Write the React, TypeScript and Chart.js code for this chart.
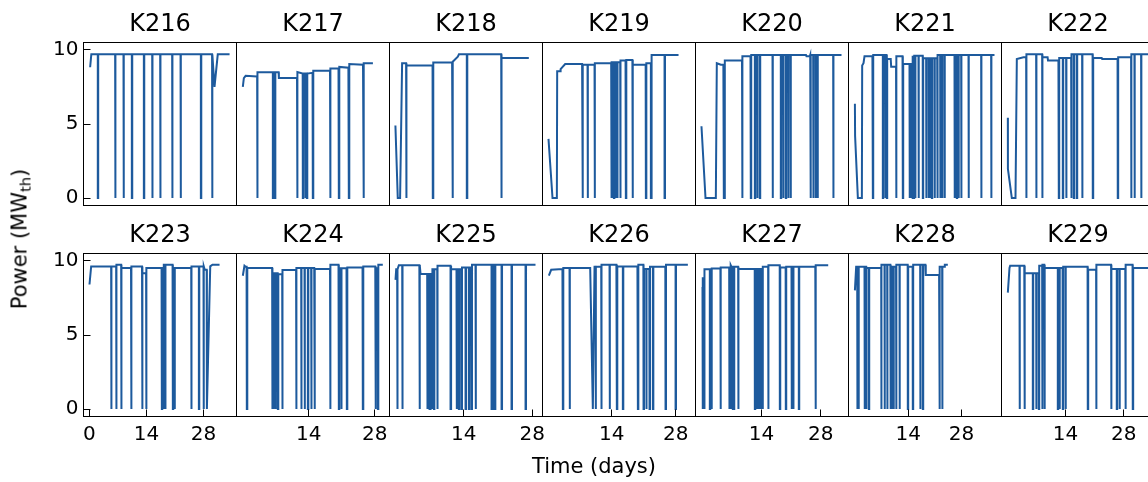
import React, { useEffect, useRef } from 'react';
import { Chart, registerables } from 'chart.js';

Chart.register(...registerables);

const FONT = "'DejaVu Sans', sans-serif";
const LINE_COLOR = '#1d5a9d';

const PANEL_NAMES = ['K216', 'K217', 'K218', 'K219', 'K220', 'K221', 'K222', 'K223', 'K224', 'K225', 'K226', 'K227', 'K228', 'K229'];
const Y_TICKS = [0, 5, 10];
const X_TICKS_FIRST = [0, 14, 28];
const X_TICKS_OTHER = [14, 28];
const Y_MIN = -0.5;
const Y_MAX = 10.5;
const X_MIN = [-1.47, -1.34, -1.21, -1.16, -1.58, -1.68, -1.37];
const X_MAX = [36.1, 31.12, 30.1, 32.3, 34.54, 38.48, 35.37];
const X_LABEL = 'Time (days)';
const Y_LABEL = 'Power (MW';
const Y_LABEL_SUB = 'th';

// Power level vertices [day, MW] and outage times (drops to 0 MW) per unit
const K216_LEVEL = [[0.16, 8.83], [0.45, 9.7], [30.2, 9.7], [30.7, 7.5], [31.5, 9.7], [34.4, 9.7]];
const K216_DROPS = [2.04, 6.3, 8.35, 10.4, 13.35, 15.4, 17.36, 20.3, 22.36, 27.35, 30.1];

const K217_LEVEL = [[0, 7.5], [0.22, 8.1], [0.6, 8.25], [3.0, 8.2], [3.1, 8.5], [7.6, 8.5], [7.65, 8.1], [11.5, 8.1], [11.6, 8.5], [12.7, 8.4], [14.8, 8.45], [14.9, 8.6], [18.5, 8.6], [18.6, 8.75], [20.3, 8.75], [20.4, 8.85], [22.4, 8.8], [22.55, 9.05], [25.5, 9.0], [25.65, 9.1], [27.6, 9.1]];
const K217_DROPS = [3.04, 6.37, 6.8, 11.53, 12.73, 13.23, 13.58, 14.85, 18.53, 20.37, 22.49, 25.6];

const K218_LEVEL = [[0, 4.9], [0.48, 0], [0.96, 0], [1.37, 9.1], [2.1, 9.1], [2.25, 8.95], [7.6, 8.95], [7.7, 9.15], [11.6, 9.15], [11.75, 9.2], [12.77, 9.55], [13.0, 9.7], [21.6, 9.7], [21.7, 9.45], [27.3, 9.45]];
const K218_DROPS = [2.19, 7.65, 11.68, 14.61, 21.65];

const K219_LEVEL = [[0.15, 4.0], [1.03, 0], [1.98, 0], [2.05, 8.56], [2.7, 8.56], [2.8, 8.7], [3.8, 9.05], [7.5, 9.05], [7.65, 9.0], [10.1, 9.0], [10.25, 9.1], [13.8, 9.1], [14.0, 9.16], [15.7, 9.16], [15.9, 9.28], [17.0, 9.28], [17.1, 9.32], [18.5, 9.32], [18.6, 9.0], [21.4, 9.0], [21.5, 9.1], [22.6, 9.1], [22.76, 9.66], [28.59, 9.66]];
const K219_DROPS = [7.59, 8.69, 10.22, 13.86, 14.15, 14.45, 14.74, 15.18, 15.83, 17.07, 18.53, 21.45, 22.54, 25.53];

const K220_LEVEL = [[-0.17, 4.85], [0.78, 0], [3.22, 0], [3.45, 9.1], [4.4, 9.0], [5.0, 9.0], [5.34, 9.28], [9.4, 9.28], [9.5, 9.57], [11.4, 9.57], [11.55, 9.66], [24.5, 9.66], [24.62, 9.57], [25.4, 9.57], [25.5, 9.66], [32.89, 9.66]];
const K220_DROPS = [[5.11, 5.34], 9.44, 11.48, 12.43, 12.98, 13.6, 16.6, 18.56, 19.11, 19.74, 20.3, 20.85, 25.57, 26.2, 26.75, 27.22, 30.92];

const K221_LEVEL = [[0, 6.36], [0.05, 4.2], [0.78, 0], [1.83, 0], [1.91, 8.94], [2.26, 9.1], [2.52, 9.57], [4.6, 9.57], [4.75, 9.66], [8.3, 9.66], [8.45, 9.39], [9.4, 9.39], [9.52, 8.87], [10.8, 8.87], [10.9, 9.57], [12.5, 9.57], [12.65, 9.05], [15.0, 9.05], [15.1, 9.6], [17.8, 9.6], [17.9, 9.43], [21.7, 9.43], [21.8, 9.66], [36.64, 9.66]];
const K221_DROPS = [4.71, 7.33, 7.94, 8.38, 10.83, 12.58, 14.33, 14.59, 14.86, 15.2, 15.47, 15.82, 16.69, 17.83, 18.7, 19.32, 19.84, 20.2, 20.9, 21.6, 22.38, 22.9, 23.52, 26.14, 26.4, 26.75, 27.19, 27.89, 29.82, 33.14, 35.76];

const K222_LEVEL = [[0.15, 5.42], [0.17, 1.97], [1.11, 0], [1.99, 0], [2.31, 9.39], [3.9, 9.5], [4.5, 9.5], [4.6, 9.7], [8.3, 9.7], [8.45, 9.5], [9.7, 9.5], [9.8, 9.28], [12.3, 9.28], [12.45, 9.45], [15.3, 9.45], [15.5, 9.7], [20.5, 9.7], [20.6, 9.45], [22.7, 9.45], [22.8, 9.39], [26.5, 9.39], [26.6, 9.5], [29.7, 9.5], [29.8, 9.7], [34.0, 9.7]];
const K222_DROPS = [4.55, 6.95, 8.39, 12.39, 13.35, 14.15, 15.35, 15.99, 16.71, 17.99, 20.55, 26.55, 29.75, 30.55, 32.15];

const K223_LEVEL = [[0, 8.41], [0.41, 9.63], [6.5, 9.63], [6.6, 9.74], [7.7, 9.74], [7.85, 9.52], [10.2, 9.52], [10.3, 9.63], [12.9, 9.63], [13.0, 9.16], [13.9, 9.16], [14.0, 9.52], [17.7, 9.52], [18.2, 9.74], [20.4, 9.74], [20.5, 9.52], [24.9, 9.52], [25.0, 9.63], [28.0, 9.63], [28.3, 9.4], [28.78, 9.4], [28.83, 0], [29.65, 9.63], [30.2, 9.74], [31.94, 9.74]];
const K223_DROPS = [5.32, 6.55, 7.78, 10.24, 12.94, 13.92, 17.77, 18.18, 18.59, 20.47, 20.88, 24.98, 26.86, 28.01];

const K224_LEVEL = [[0, 9.0], [0.35, 9.67], [0.6, 9.6], [0.8, 9.6], [0.95, 9.52], [6.1, 9.52], [6.25, 9.16], [7.4, 9.16], [7.5, 9.1], [8.3, 9.1], [8.4, 9.38], [11.3, 9.38], [11.4, 9.52], [15.15, 9.52], [15.3, 9.45], [18.5, 9.45], [18.6, 9.74], [20.3, 9.74], [20.45, 9.5], [22.0, 9.5], [22.1, 9.55], [25.4, 9.55], [25.5, 9.63], [28.1, 9.63], [28.2, 9.5], [28.6, 9.5], [28.7, 9.74], [29.7, 9.74]];
const K224_DROPS = [0.85, 6.22, 6.5, 6.93, 7.43, 8.35, 11.32, 12.38, 13.09, 13.8, 14.5, 15.21, 18.53, 20.37, 20.87, 22.07, 25.46, 28.15, 28.65];

const K225_LEVEL = [[0.02, 8.72], [0.16, 9.43], [0.7, 9.71], [4.9, 9.71], [5.14, 9.12], [7.5, 9.12], [7.6, 9.43], [8.5, 9.43], [8.6, 9.67], [11.3, 9.67], [11.41, 9.43], [13.5, 9.43], [13.6, 9.56], [15.5, 9.56], [15.6, 9.74], [28.67, 9.74]];
const K225_DROPS = [0.36, 1.39, 4.93, 6.5, 6.71, 6.98, 7.18, 7.52, 7.87, 8.55, 11.28, 12.5, 12.98, 13.53, 14.35, 15.03, 15.58, 16.39, 19.67, 19.94, 20.35, 21.72, 23.76, 26.63];

const K226_LEVEL = [[0.23, 9.0], [0.74, 9.4], [3.2, 9.45], [3.35, 9.52], [9.27, 9.52], [9.85, 0], [10.22, 9.6], [11.6, 9.63], [11.75, 9.74], [15.0, 9.74], [15.2, 9.63], [19.6, 9.63], [19.75, 9.74], [20.9, 9.74], [21.0, 9.45], [22.2, 9.45], [22.3, 9.6], [25.7, 9.6], [25.8, 9.74], [30.63, 9.74]];
const K226_DROPS = [3.29, 4.75, 10.44, 11.68, 13.5, 15.1, 16.41, 19.7, 20.94, 21.52, 22.25, 22.98, 25.75, 27.94];

const K227_LEVEL = [[-0.17, 8.17], [0.07, 8.83], [0.47, 9.43], [2.1, 9.45], [2.2, 9.49], [4.3, 9.49], [4.4, 9.55], [6.6, 9.55], [6.68, 9.71], [6.9, 9.6], [8.4, 9.6], [8.5, 9.45], [12.4, 9.45], [14.24, 9.6], [15.5, 9.6], [15.6, 9.7], [18.3, 9.7], [18.4, 9.55], [19.7, 9.55], [19.8, 9.6], [26.7, 9.6], [26.8, 9.7], [29.75, 9.7]];
const K227_DROPS = [0.07, 0.47, 1.8, 2.2, 4.32, 6.37, 6.68, 6.92, 7.23, 7.47, 8.49, 12.43, 12.82, 13.05, 13.29, 13.53, 13.77, 14.0, 14.24, 15.57, 18.33, 19.74, 21.08, 21.48, 22.81, 26.75];

const K228_LEVEL = [[0, 8.01], [0.33, 9.6], [2.9, 9.6], [3.0, 9.52], [6.8, 9.52], [6.95, 9.74], [9.3, 9.74], [9.4, 9.6], [10.8, 9.6], [10.9, 9.74], [13.85, 9.74], [13.95, 9.6], [15.15, 9.6], [15.25, 9.74], [18.5, 9.74], [18.6, 9.05], [22.1, 9.05], [22.25, 9.6], [23.5, 9.6], [23.6, 9.74], [24.39, 9.74]];
const K228_DROPS = [0.6, 0.94, 2.52, 2.96, 3.66, 6.9, 7.77, 8.47, 9.34, 9.78, 10.13, 10.83, 11.7, 13.89, 15.2, 17.13, 17.83, 22.2, 22.9];

const K229_LEVEL = [[0.15, 7.86], [0.55, 9.52], [0.71, 9.67], [4.1, 9.67], [4.2, 9.16], [7.55, 9.16], [7.65, 9.67], [8.35, 9.67], [8.45, 9.74], [8.9, 9.74], [9.0, 9.52], [13.3, 9.52], [13.4, 9.6], [19.3, 9.6], [19.4, 9.4], [21.3, 9.4], [21.4, 9.74], [24.9, 9.74], [25.0, 9.45], [28.35, 9.45], [28.45, 9.74], [30.1, 9.74], [30.2, 9.52], [34.0, 9.52]];
const K229_DROPS = [2.95, 4.15, 6.15, 6.95, 7.59, 8.39, 8.95, 12.15, 12.55, 13.35, 13.99, 19.35, 21.35, 24.95, 26.31, 26.95, 28.39, 30.15];

const LEVELS = [K216_LEVEL, K217_LEVEL, K218_LEVEL, K219_LEVEL, K220_LEVEL, K221_LEVEL, K222_LEVEL, K223_LEVEL, K224_LEVEL, K225_LEVEL, K226_LEVEL, K227_LEVEL, K228_LEVEL, K229_LEVEL];
const DROPS: any[] = [K216_DROPS, K217_DROPS, K218_DROPS, K219_DROPS, K220_DROPS, K221_DROPS, K222_DROPS, K223_DROPS, K224_DROPS, K225_DROPS, K226_DROPS, K227_DROPS, K228_DROPS, K229_DROPS];

const DROP_W = 0.1;

function buildSeries(level: number[][], drops: any[]) {
  const ev: { t: number; k: number; v?: number; e?: number }[] = [];
  level.forEach(([t, v]) => ev.push({ t, k: 1, v }));
  drops.forEach((d) => {
    const s = Array.isArray(d) ? d[0] : d;
    const e = Array.isArray(d) ? d[1] : d + DROP_W;
    ev.push({ t: s, k: 0, e });
  });
  ev.sort((a, b) => a.t - b.t || a.k - b.k);
  const pts: { x: number; y: number }[] = [];
  let cur = level[0][1];
  let lastX = -Infinity;
  for (const it of ev) {
    if (it.k === 1) {
      cur = it.v as number;
      if (it.t >= lastX) {
        pts.push({ x: it.t, y: it.v as number });
        lastX = it.t;
      }
    } else {
      const e = it.e as number;
      let after = cur;
      for (const [t, v] of level) if (t <= e) after = v;
      pts.push({ x: it.t, y: cur }, { x: it.t, y: 0 }, { x: e, y: 0 }, { x: e, y: after });
      lastX = e;
      cur = after;
    }
  }
  return pts;
}

const framePlugin = {
  id: 'panelFrame',
  afterDraw(chart: any, _args: any, opts: any) {
    const { ctx, chartArea: a, scales } = chart;
    ctx.save();
    ctx.strokeStyle = '#000';
    ctx.lineWidth = 1;
    ctx.strokeRect(a.left, a.top, a.right - a.left, a.bottom - a.top);
    ctx.beginPath();
    if (opts.yTicks) {
      for (const v of opts.yTicks) {
        const p = Math.floor(scales.y.getPixelForValue(v)) + 0.5;
        ctx.moveTo(a.left, p);
        ctx.lineTo(a.left + 7, p);
      }
    }
    if (opts.xTicks) {
      for (const v of opts.xTicks) {
        const p = Math.floor(scales.x.getPixelForValue(v)) + 0.5;
        ctx.moveTo(p, a.bottom);
        ctx.lineTo(p, a.bottom - 7);
      }
    }
    ctx.stroke();
    ctx.restore();
  },
};

const CANVAS_W = 320;
const CANVAS_H = 256;
const PANEL_STEP_X = 153;
const PANEL_STEP_Y = 211;
const Y_AXIS_W = 83.5;
const X_AXIS_H = 50.5;

function Panel({ idx }: { idx: number }) {
  const ref = useRef<HTMLCanvasElement>(null);
  const col = idx % 7;
  const row = Math.floor(idx / 7);
  useEffect(() => {
    const xTicks = col === 0 ? X_TICKS_FIRST : X_TICKS_OTHER;
    const showX = row === 1;
    const showY = col === 0;
    const chart = new Chart(ref.current as HTMLCanvasElement, {
      type: 'line',
      data: {
        datasets: [
          {
            data: buildSeries(LEVELS[idx], DROPS[idx]),
            borderColor: LINE_COLOR,
            borderWidth: 2,
            pointRadius: 0,
            tension: 0,
            fill: false,
          },
        ],
      },
      options: {
        animation: false,
        responsive: false,
        events: [],
        layout: { padding: { left: 0, right: 83.5, top: 10.4, bottom: 0 } },
        plugins: {
          legend: { display: false },
          tooltip: { enabled: false },
          title: {
            display: true,
            fullSize: false,
            align: 'center',
            text: PANEL_NAMES[idx],
            color: '#000',
            font: { family: FONT, size: 24, weight: 'normal' },
            padding: { top: 0, bottom: 3.3 },
          },
          panelFrame: { xTicks: showX ? xTicks : null, yTicks: showY ? Y_TICKS : null },
        } as any,
        scales: {
          x: {
            type: 'linear',
            min: X_MIN[col],
            max: X_MAX[col],
            afterBuildTicks: (s: any) => {
              s.ticks = xTicks.map((v) => ({ value: v }));
            },
            afterFit: (s: any) => {
              s.height = X_AXIS_H;
            },
            grid: { display: false, drawTicks: false },
            border: { display: false },
            ticks: {
              display: showX,
              color: '#000',
              font: { family: FONT, size: 20 },
              padding: 6,
              maxRotation: 0,
              autoSkip: false,
            },
          },
          y: {
            type: 'linear',
            min: Y_MIN,
            max: Y_MAX,
            afterBuildTicks: (s: any) => {
              s.ticks = Y_TICKS.map((v) => ({ value: v }));
            },
            afterFit: (s: any) => {
              s.width = Y_AXIS_W;
            },
            grid: { display: false, drawTicks: false },
            border: { display: false },
            ticks: {
              display: showY,
              color: '#000',
              font: { family: FONT, size: 20 },
              padding: 5,
              autoSkip: false,
            },
          },
        },
      },
      plugins: [framePlugin],
    });
    return () => chart.destroy();
  }, [idx]);
  return (
    <canvas
      ref={ref}
      width={CANVAS_W}
      height={CANVAS_H}
      style={{ position: 'absolute', left: PANEL_STEP_X * col, top: PANEL_STEP_Y * row, width: CANVAS_W, height: CANVAS_H }}
    />
  );
}

export default function App() {
  return (
    <div
      style={{
        position: 'absolute',
        left: 0,
        top: 0,
        width: 1148,
        height: 482,
        overflow: 'hidden',
        background: '#fff',
        fontFamily: FONT,
        color: '#000',
      }}
    >
      {PANEL_NAMES.map((_, i) => (
        <Panel key={i} idx={i} />
      ))}
      <div
        style={{
          position: 'absolute',
          left: 0,
          width: 1188,
          top: 456,
          textAlign: 'center',
          fontSize: 21,
          lineHeight: '21px',
          whiteSpace: 'nowrap',
        }}
      >
        {X_LABEL}
      </div>
      <div
        style={{
          position: 'absolute',
          left: 19.5,
          top: 239,
          transform: 'translate(-50%, -50%) rotate(-90deg)',
          fontSize: 21,
          lineHeight: '21px',
          whiteSpace: 'nowrap',
        }}
      >
        {Y_LABEL}
        <sub style={{ fontSize: '0.7em', verticalAlign: '-0.25em', lineHeight: 0 }}>{Y_LABEL_SUB}</sub>)
      </div>
    </div>
  );
}
